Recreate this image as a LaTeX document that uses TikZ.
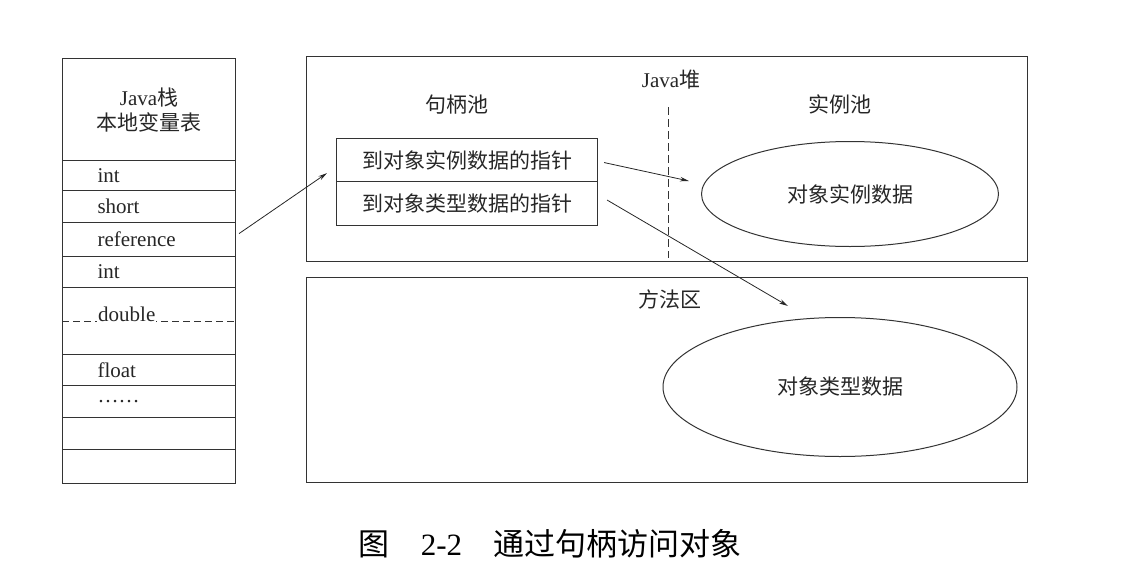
\documentclass[tikz,border=0pt]{standalone}
\usepackage{fontspec}
\setmainfont{Liberation Serif}
\newfontfamily\cjk{Noto Sans CJK SC}
\usetikzlibrary{arrows.meta,shapes.geometric}

\begin{document}
\begin{tikzpicture}[x=1pt, y=-1pt,
  every node/.style={font=\fontsize{21}{25}\selectfont, text=black!85},
  slot/.style={draw=black!80, line width=1.1pt, minimum width=173pt, inner xsep=35pt,
               inner ysep=0pt, text width=103pt, align=left, anchor=north west},
  area/.style={draw=black!80, line width=1.1pt, minimum width=721pt,
               minimum height=205pt, anchor=north west},
  ptr/.style={draw=black!80, line width=1.1pt, minimum width=261pt, inner sep=0pt,
              anchor=north west},
  blob/.style={draw=black!80, line width=1pt, ellipse, inner sep=0pt},
  link/.style={-{Stealth[length=9pt, width=4.5pt]}, black!85, line width=0.8pt}]

  \useasboundingbox (0,0) rectangle (1122,570);

  % Java stack
  \node[slot, minimum height=102pt, text width=173pt, inner xsep=0pt, align=center]
    (jstack) at (62,58) {Java{\cjk 栈}\\{\cjk 本地变量表}};
  \node[slot, minimum height=30pt] (r1)   at (62,160) {int};
  \node[slot, minimum height=32pt] (r2)   at (62,190) {short};
  \node[slot, minimum height=34pt] (rref) at (62,222) {reference};
  \node[slot, minimum height=31pt] (r4)   at (62,256) {int};
  \node[slot, minimum height=67pt] (rdbl) at (62,287) {};
  \node[slot, minimum height=31pt] (r6)   at (62,354) {float};
  \node[slot, minimum height=32pt] (r7)   at (62,385) {……};
  \node[slot, minimum height=32pt] (r8)   at (62,417) {};
  \node[slot, minimum height=34pt] (r9)   at (62,449) {};
  \draw[black!80, line width=0.8pt, dash pattern=on 7pt off 4pt] (rdbl.west) -- (rdbl.east);
  \node[fill=white, inner sep=1pt, anchor=base west] (dbl)
    at ([xshift=35pt]rdbl.west) {double};

  % Java heap
  \node[area] (heap) at (306,56) {};
  \node (heaplbl) at (671,80)  {Java{\cjk 堆}};
  \node (hplbl)   at (457,105) {{\cjk 句柄池}};
  \node (iplbl)   at (840,104) {{\cjk 实例池}};
  \coordinate (split) at (668,107);
  \draw[black!80, line width=0.8pt, dash pattern=on 8pt off 4pt] (split) -- (668,258);
  \node[ptr, minimum height=43pt] (hinst) at (336,138) {{\cjk 到对象实例数据的指针}};
  \node[ptr, minimum height=44pt] (htype) at (336,181) {{\cjk 到对象类型数据的指针}};
  \node[blob, minimum width=297pt, minimum height=105pt] (einst) at (850,194)
    {{\cjk 对象实例数据}};

  % Method area
  \node[area] (marea) at (306,277) {};
  \node (malbl) at (670,299) {{\cjk 方法区}};
  \node[blob, minimum width=354pt, minimum height=139pt] (etype) at (840,387)
    {{\cjk 对象类型数据}};

  \draw[link] ([xshift=3pt, yshift=6pt]rref.east) -- ([xshift=-9pt, yshift=9pt]hinst.south west);
  \draw[link] ([xshift=6pt, yshift=-2.5pt]hinst.east) -- ([xshift=-12pt, yshift=13pt]einst.west);
  \draw[link] ([xshift=9pt, yshift=3.5pt]htype.east) -- ([xshift=-52pt, yshift=11pt]etype.north);

  \node[font=\fontsize{31}{36}\selectfont, text=black] (cap) at (550,544)
    {{\cjk 图}\hspace{1em}2-2\hspace{1em}{\cjk 通过句柄访问对象}};
\end{tikzpicture}
\end{document}
